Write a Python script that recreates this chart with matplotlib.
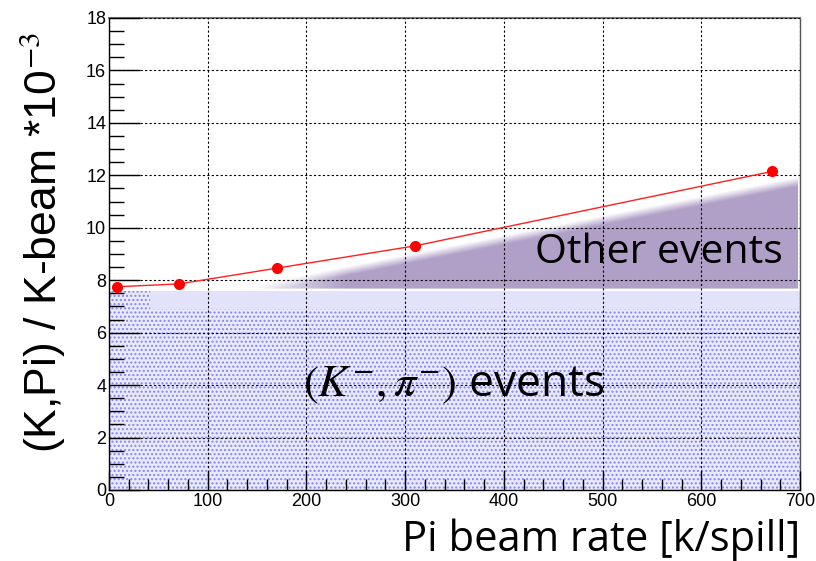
import numpy as np
import matplotlib
matplotlib.use("Agg")
import matplotlib.pyplot as plt
from matplotlib.ticker import MultipleLocator

plt.rcParams["mathtext.fontset"] = "stix"
plt.rcParams["hatch.linewidth"] = 1.0

# === datos ===
rate = [8, 71, 170, 310, 672]           # Pi beam rate [k/spill]
ratio = [7.75, 7.86, 8.46, 9.31, 12.15]  # (K,Pi)/K-beam *1e-3

kpi_level = 7.6      # top of (K-,pi-) region
band_low = 6.9       # light band under "Other events"
band_start = 42
other_top = [(130, 7.7), (700, 11.95)]
other_bottom = 7.72

fig = plt.figure(figsize=(8.16, 5.61), dpi=100)
ax = fig.add_axes([109/816, 1-490/561, 691/816, 472/561])
ax.set_xlim(0, 700)
ax.set_ylim(0, 18)

# (K-,pi-) region, dotted fill
ax.fill_between([0, 700], 0, kpi_level, facecolor="#eaeafd", edgecolor="#8585f5",
                hatch="....", linewidth=0, zorder=1)
ax.fill_between([band_start, 700], band_low, kpi_level, facecolor="#e2e2fb",
                linewidth=0, zorder=1.5)

# other events wedge with soft edge
(x0, y0), (x1, y1) = other_top
gx = np.linspace(0, 700, 700)
gy = np.linspace(0, 18, 600)
GX, GY = np.meshgrid(gx, gy)
ytop = y0 + (y1 - y0) * (GX - x0) / (x1 - x0)
a = np.clip((ytop - GY) / 0.35, 0, 1) * np.clip((GX - x0) / 110, 0, 1)
a = a * (GY > other_bottom - 0.05) * (GX <= x1 - 2)
img = np.zeros((600, 700, 4))
img[..., 0] = 176/255
img[..., 1] = 160/255
img[..., 2] = 200/255
img[..., 3] = a
ax.imshow(img, extent=[0, 700, 0, 18], origin="lower", aspect="auto",
          interpolation="bilinear", zorder=2)

ax.plot(rate, ratio, color="#ff2020", linewidth=1.0, marker="o",
        markersize=7, markerfacecolor="#ff0000", markeredgecolor="#ff0000", zorder=4)

# grid and ticks, ROOT style
ax.grid(True, color="black", linestyle=(0, (2, 2)), linewidth=0.8, zorder=3)
ax.set_axisbelow(False)
ax.xaxis.set_major_locator(MultipleLocator(100))
ax.xaxis.set_minor_locator(MultipleLocator(20))
ax.yaxis.set_major_locator(MultipleLocator(2))
ax.yaxis.set_minor_locator(MultipleLocator(0.5))
ax.tick_params(which="both", direction="in", labelsize=13, pad=2)
ax.tick_params(which="major", length=22, width=1)
ax.tick_params(which="minor", length=11, width=1)
ax.tick_params(axis="x", which="major", length=14)
ax.tick_params(axis="x", which="minor", length=8)
for lab in ax.get_xticklabels() + ax.get_yticklabels():
    lab.set_family("Liberation Sans")
for s in ax.spines.values():
    s.set_linewidth(1.0)
ax.spines["top"].set_color("#777777")
ax.spines["top"].set_linewidth(1.5)
ax.spines["right"].set_color("#555555")

ax.text(557, 9.05, "Other events", fontsize=29.5, family="Open Sans",
        ha="center", va="center", zorder=5)
ax.text(349, 4.0, r"$(K^{-},\pi^{-})$ events", fontsize=32, family="Open Sans",
        ha="center", va="center", zorder=5)

fig.text(800/816, 1-540/561, "Pi beam rate [k/spill]", fontsize=30,
         family="Open Sans", ha="right", va="center")
fig.text(42/816, 1-243/561, r"(K,Pi) / K-beam *10$^{-3}$", fontsize=32,
         family="Liberation Sans", rotation=90, ha="center", va="center")

fig.savefig("out.png", dpi=100)
